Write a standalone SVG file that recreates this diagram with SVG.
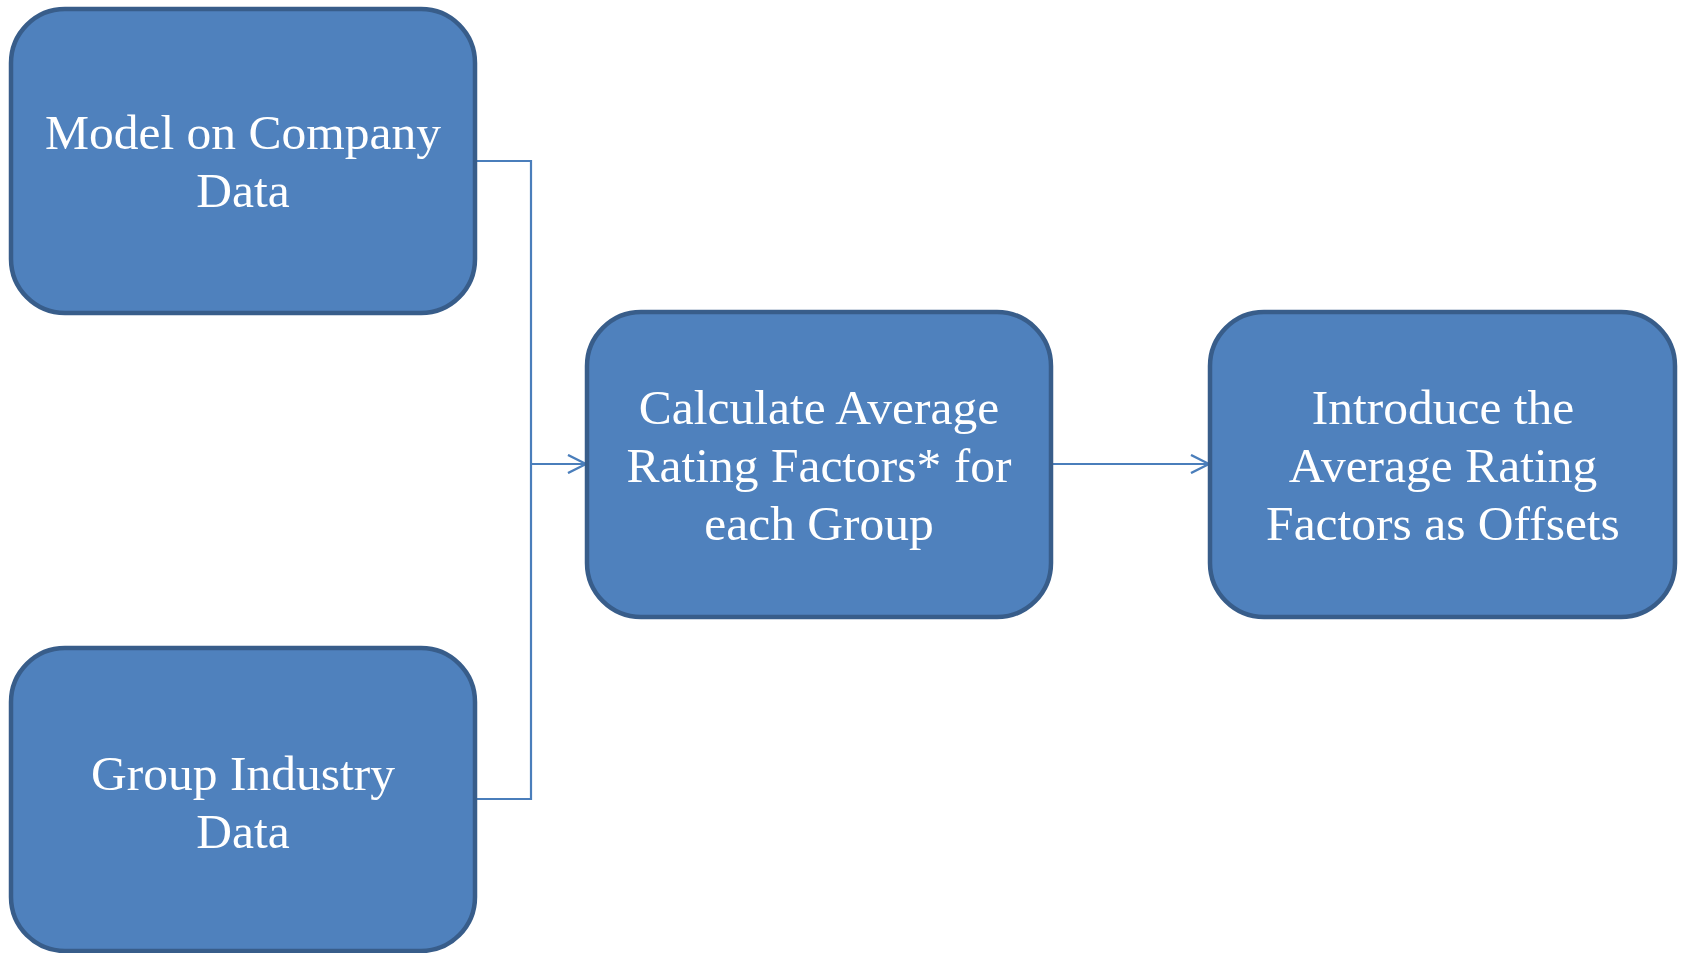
<svg xmlns="http://www.w3.org/2000/svg" width="1682" height="953" viewBox="0 0 1682 953">
<style>
.box{fill:#4F81BD;stroke:#385D8A;stroke-width:4.5}
.t{font-family:"Liberation Serif","Times New Roman",serif;font-size:49.5px;fill:#FFFFFF;text-anchor:middle}
.c{fill:none;stroke:#4A7EBB;stroke-width:2.2}
</style>
<defs>
<marker id="arr" viewBox="0 0 20 20" refX="19" refY="10" markerWidth="20" markerHeight="20" markerUnits="userSpaceOnUse" orient="auto">
<path d="M1,1 L19,10 L1,19" fill="none" stroke="#4A7EBB" stroke-width="2.4"/>
</marker>
</defs>
<g id="connectors">
<path class="c" d="M475,161 H531 V799 H475"/>
<path class="c" d="M531,464 H586" marker-end="url(#arr)"/>
<path class="c" d="M1051,464 H1209" marker-end="url(#arr)"/>
</g>
<g id="n1">
<rect class="box" x="11" y="9" width="464" height="304" rx="54"/>
<text class="t" x="243" y="149">Model on Company</text>
<text class="t" x="243" y="207">Data</text>
</g>
<g id="n2">
<rect class="box" x="11" y="648" width="464" height="303" rx="54"/>
<text class="t" x="243" y="790">Group Industry</text>
<text class="t" x="243" y="848">Data</text>
</g>
<g id="n3">
<rect class="box" x="587" y="312" width="464" height="305" rx="54"/>
<text class="t" x="819" y="424">Calculate Average</text>
<text class="t" x="819" y="482">Rating Factors* for</text>
<text class="t" x="819" y="540">each Group</text>
</g>
<g id="n4">
<rect class="box" x="1210" y="312" width="465" height="305" rx="54"/>
<text class="t" x="1443" y="424">Introduce the</text>
<text class="t" x="1443" y="482">Average Rating</text>
<text class="t" x="1443" y="540">Factors as Offsets</text>
</g>
</svg>
